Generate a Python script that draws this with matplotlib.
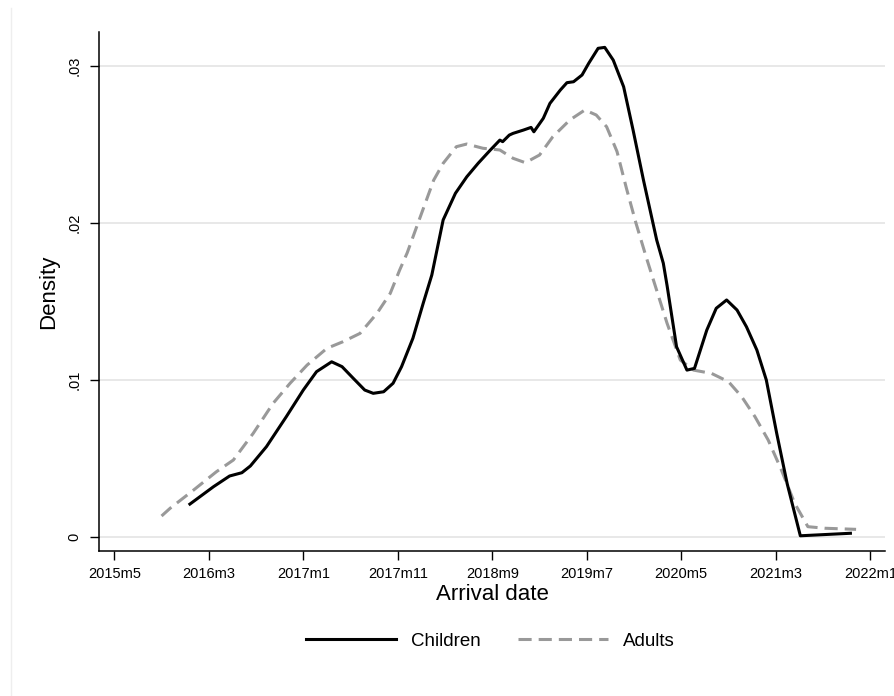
import matplotlib.pyplot as plt
from matplotlib.lines import Line2D

plt.rcParams['font.family'] = ['Liberation Sans', 'DejaVu Sans']

# kernel density of arrival month (Stata %tm values) by group
children_month = [672.0, 674.5, 676.2, 677.5, 678.4, 680.1, 682.2, 684.0, 685.4, 687.0,
                  688.1, 689.3, 690.5, 691.4, 692.5, 693.5, 694.4, 695.6, 696.7, 697.6,
                  698.8, 700.1, 701.3, 702.5, 703.8, 704.8, 705.1, 705.8, 706.2, 707.3,
                  708.1, 708.4, 709.4, 710.1, 711.2, 711.9, 712.6, 713.5, 714.2, 715.2,
                  715.9, 716.8, 717.9, 718.9, 720.0, 720.7, 721.4, 722.1, 722.5, 723.5,
                  724.6, 725.4, 726.7, 727.7, 728.8, 729.9, 730.9, 732.0, 733.0, 734.1,
                  735.2, 736.6, 741.9]
children_density = [0.00208, 0.00319, 0.00387, 0.00408, 0.00451, 0.00574, 0.00765, 0.00935, 0.01052, 0.01115,
                    0.01084, 0.01009, 0.00935, 0.00914, 0.00924, 0.00978, 0.01084, 0.01265, 0.01490, 0.01668,
                    0.02019, 0.02189, 0.02294, 0.02380, 0.02465, 0.02528, 0.02518, 0.02560, 0.02571, 0.02592,
                    0.02609, 0.02581, 0.02667, 0.02762, 0.02847, 0.02894, 0.02900, 0.02943, 0.03017, 0.03113,
                    0.03119, 0.03038, 0.02868, 0.02592, 0.02273, 0.02082, 0.01891, 0.01743, 0.01600, 0.01211,
                    0.01062, 0.01073, 0.01317, 0.01456, 0.01509, 0.01445, 0.01338, 0.01190, 0.00999, 0.00659,
                    0.00340, 0.00006, 0.00022]

adults_month = [669.0, 669.9, 672.4, 674.8, 676.6, 678.7, 680.8, 682.6, 684.4, 686.5,
                688.2, 690.0, 691.8, 693.2, 694.2, 695.0, 696.0, 697.8, 698.8, 700.2,
                701.3, 703.0, 704.8, 706.2, 707.5, 709.0, 710.4, 712.2, 713.8, 715.0,
                716.1, 717.2, 718.2, 719.2, 720.3, 721.4, 722.5, 723.9, 725.3, 727.2,
                729.0, 730.4, 731.8, 733.2, 734.6, 736.0, 737.4, 739.2, 742.5]
adults_density = [0.00132, 0.00181, 0.00298, 0.00414, 0.00489, 0.00659, 0.00850, 0.00978, 0.01094, 0.01201,
                  0.01243, 0.01296, 0.01424, 0.01551, 0.01700, 0.01810, 0.01976, 0.02273, 0.02380, 0.02486,
                  0.02503, 0.02476, 0.02465, 0.02412, 0.02384, 0.02433, 0.02549, 0.02656, 0.02720, 0.02688,
                  0.02613, 0.02455, 0.02220, 0.02000, 0.01780, 0.01570, 0.01360, 0.01126, 0.01062, 0.01041,
                  0.00988, 0.00892, 0.00765, 0.00616, 0.00425, 0.00213, 0.00064, 0.00054, 0.00047]

month_ticks = [664, 674, 684, 694, 704, 714, 724, 734, 744]
month_labels = ['2015m5', '2016m3', '2017m1', '2017m11', '2018m9',
                '2019m7', '2020m5', '2021m3', '2022m1']
density_ticks = [0, 0.01, 0.02, 0.03]
density_labels = ['0', '.01', '.02', '.03']

fig = plt.figure(figsize=(8.94, 6.96), dpi=100)
ax = fig.add_axes([0.11074, 0.20833, 0.87919, 0.74569])

# faint outer graph-region edge
fig.add_artist(Line2D([0.0123, 0.0123], [0.0, 0.9885], color='#eeeeee', lw=1))

ax.plot(children_month, children_density, color='black', lw=2.2, label='Children',
        solid_joinstyle='round', zorder=3)
ax.plot(adults_month, adults_density, color='#999999', lw=2.2, label='Adults',
        linestyle=(0, (4.3, 2.3)), dash_capstyle='butt', zorder=2)

ax.set_xlim(662.38, 745.56)
ax.set_ylim(-0.00091, 0.03217)

ax.set_xticks(month_ticks)
ax.set_xticklabels(month_labels)
ax.set_yticks(density_ticks)
ax.set_yticklabels(density_labels, rotation=90, va='center')

for y in density_ticks:
    ax.axhline(y, color='#e6e6e6', lw=1.3, zorder=1)

for s in ['top', 'right']:
    ax.spines[s].set_visible(False)
for s in ['left', 'bottom']:
    ax.spines[s].set_linewidth(1.1)

ax.tick_params(axis='x', length=6.5, width=1, pad=5, labelsize=10.5)
ax.tick_params(axis='y', length=6.5, width=1, pad=6, labelsize=10.5)

ax.set_xlabel('Arrival date', fontsize=16, labelpad=2)
ax.set_ylabel('Density', fontsize=16, labelpad=6)

fig.legend(loc='center', bbox_to_anchor=(0.5481, 0.0790), ncol=2, frameon=False,
           fontsize=13.5, handlelength=4.8, handletextpad=0.8, columnspacing=2.0)

fig.savefig('out.png', dpi=100)
